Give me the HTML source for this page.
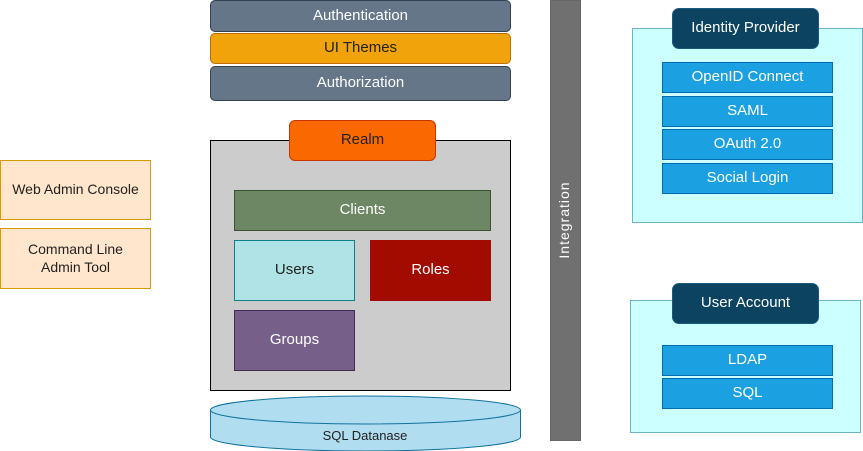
<!DOCTYPE html>
<html><head><meta charset="utf-8"><style>
body{margin:0;width:863px;height:451px;position:relative;background:#fff;font-family:"Liberation Sans",Arial,sans-serif;font-size:15px;overflow:hidden}
.b{position:absolute;box-sizing:border-box;display:flex;align-items:center;justify-content:center;text-align:center;line-height:1.25}
</style></head><body>
<div class="b" style="left:210px;top:0;width:301px;height:32px;background:#647687;border:1px solid #314354;border-radius:5px;color:#fff">Authentication</div>
<div class="b" style="left:210px;top:33px;width:301px;height:31px;background:#f0a30a;border:1px solid #bd7000;border-radius:5px;color:#222">UI Themes</div>
<div class="b" style="left:210px;top:66px;width:301px;height:35px;background:#647687;border:1px solid #314354;border-radius:5px;color:#fff">Authorization</div>

<div class="b" style="left:210px;top:140px;width:301px;height:251px;background:#cccccc;border:1px solid #000"></div>
<div class="b" style="left:289px;top:120px;width:147px;height:41px;background:#fa6800;border:1px solid #c73500;border-radius:6px;color:#222">Realm</div>
<div class="b" style="left:234px;top:190px;width:257px;height:41px;background:#6d8764;border:1px solid #3a5431;color:#fff">Clients</div>
<div class="b" style="left:234px;top:240px;width:121px;height:61px;background:#b0e3e6;border:1px solid #0e8088;color:#222">Users</div>
<div class="b" style="left:370px;top:240px;width:121px;height:61px;background:#a20b00;border:1px solid #a20b00;color:#fff">Roles</div>
<div class="b" style="left:234px;top:310px;width:121px;height:61px;background:#76608a;border:1px solid #432d57;color:#fff">Groups</div>

<svg style="position:absolute;left:0;top:0" width="863" height="451">
<path d="M210.5 410 A155 14 0 0 1 520.5 410 L520.5 437 A155 14 0 0 1 210.5 437 Z" fill="#b1ddf0" stroke="#10739e"/>
<path d="M210.5 410 A155 14 0 0 0 520.5 410" fill="none" stroke="#10739e"/>
<text x="365" y="440" font-family="Liberation Sans,Arial,sans-serif" font-size="13" text-anchor="middle" fill="#222">SQL Datanase</text>
</svg>

<div class="b" style="left:550px;top:0;width:31px;height:441px;background:#707070;border:1px solid #666"></div>
<div class="b" style="left:465px;top:210px;width:200px;height:20px;transform:rotate(-90deg);color:#fff;font-size:14px;letter-spacing:1px">Integration</div>

<div class="b" style="left:0;top:160px;width:151px;height:60px;background:#ffe6cc;border:1px solid #d79b00;color:#222;font-size:14px">Web Admin Console</div>
<div class="b" style="left:0;top:228px;width:151px;height:61px;background:#ffe6cc;border:1px solid #d79b00;color:#222;font-size:14px">Command Line<br>Admin Tool</div>

<div class="b" style="left:632px;top:28px;width:231px;height:195px;background:#ccffff;border:1px solid #6fb3c6"></div>
<div class="b" style="left:672px;top:8px;width:147px;height:41px;background:#0b4360;border:1px solid #1a5a80;border-radius:7px;color:#fff">Identity Provider</div>
<div class="b" style="left:662px;top:62px;width:171px;height:31px;background:#1ba1e2;border:1px solid #006eaf;color:#fff">OpenID Connect</div>
<div class="b" style="left:662px;top:96px;width:171px;height:31px;background:#1ba1e2;border:1px solid #006eaf;color:#fff">SAML</div>
<div class="b" style="left:662px;top:129px;width:171px;height:31px;background:#1ba1e2;border:1px solid #006eaf;color:#fff">OAuth 2.0</div>
<div class="b" style="left:662px;top:163px;width:171px;height:31px;background:#1ba1e2;border:1px solid #006eaf;color:#fff">Social Login</div>

<div class="b" style="left:630px;top:300px;width:231px;height:133px;background:#ccffff;border:1px solid #6fb3c6"></div>
<div class="b" style="left:672px;top:283px;width:147px;height:41px;background:#0b4360;border:1px solid #1a5a80;border-radius:7px;color:#fff">User Account</div>
<div class="b" style="left:662px;top:345px;width:171px;height:31px;background:#1ba1e2;border:1px solid #006eaf;color:#fff">LDAP</div>
<div class="b" style="left:662px;top:378px;width:171px;height:31px;background:#1ba1e2;border:1px solid #006eaf;color:#fff">SQL</div>
</body></html>
